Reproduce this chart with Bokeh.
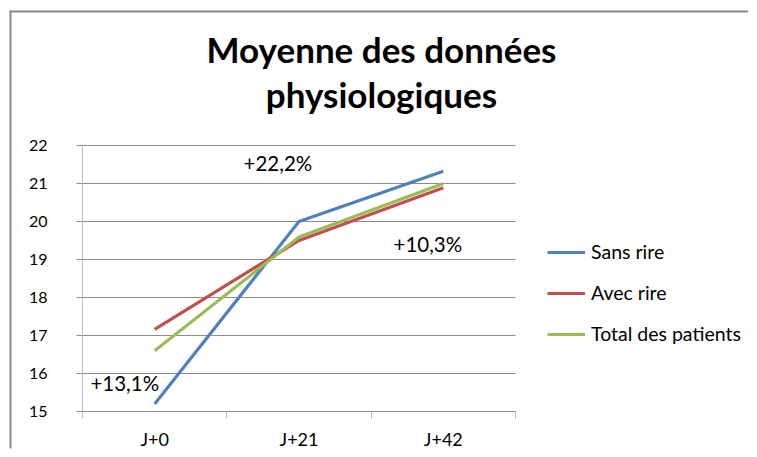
from bokeh.plotting import figure
from bokeh.models import (Range1d, FixedTicker, LinearAxis, Legend, LegendItem,
                          Label, BoxAnnotation)
from bokeh.embed import file_html
from bokeh.resources import INLINE

categories = ["J+0", "J+21", "J+42"]
sans_rire = [15.2, 20.0, 21.32]
avec_rire = [17.16, 19.5, 20.89]
total_patients = [16.6, 19.59, 21.0]
y_ticks = [15, 16, 17, 18, 19, 20, 21, 22]
annotations = ["+13,1%", "+22,2%", "+10,3%"]

x_pos = [i + 0.5 for i in range(len(categories))]
n = len(categories)
FONT = "Lato"
W, H = 749, 449
# layout: plot area spans x 82..515 px, y 145..411 px
px_x = (515 - 82) / n
px_y = (411 - 145) / (y_ticks[-1] - y_ticks[0])
x0 = -82 / px_x
x1 = (W - 82) / px_x
y0 = y_ticks[0] - (H - 411) / px_y
y1 = y_ticks[-1] + 145 / px_y

p = figure(width=W, height=H, output_backend="svg", toolbar_location=None,
           x_range=Range1d(x0, x1), y_range=Range1d(y0, y1),
           min_border=0, x_axis_type=None, y_axis_type=None)
p.outline_line_color = None
p.background_fill_color = "white"
p.border_fill_color = "white"

# outer chart border (left and top edges) as thin filled bands
BORDER = "#878787"
p.add_layout(BoxAnnotation(left=x0 + 9 / px_x, right=x0 + 11 / px_x,
                           top=y1 - 10 / px_y, bottom=y0 + 1 / px_y,
                           fill_color=BORDER, fill_alpha=1, line_color=None))
p.add_layout(BoxAnnotation(left=x0 + 9 / px_x, right=x1 - 1.5 / px_x,
                           top=y1 - 10 / px_y, bottom=y1 - 12 / px_y,
                           fill_color=BORDER, fill_alpha=1, line_color=None))

# horizontal gridlines limited to the plot area
p.segment(x0=[0] * len(y_ticks), x1=[n] * len(y_ticks), y0=y_ticks, y1=y_ticks,
          line_color="#8C8C8C", line_width=1)

# y axis
yaxis = LinearAxis(ticker=FixedTicker(ticks=y_ticks), fixed_location=0,
                   bounds=(y_ticks[0], y_ticks[-1]),
                   axis_line_color="#BDBDBD", major_tick_line_color="#8C8C8C",
                   major_tick_out=6, major_tick_in=0, minor_tick_line_color=None,
                   major_label_text_font=FONT, major_label_text_font_size="16px",
                   major_label_text_color="#000000", major_label_standoff=29)
p.add_layout(yaxis, "left")

# x axis: boundary ticks
tick_axis = LinearAxis(ticker=FixedTicker(ticks=list(range(n + 1))),
                       fixed_location=y_ticks[0], bounds=(0, n),
                       major_label_overrides={i: "" for i in range(n + 1)},
                       major_label_text_font_size="1px", major_label_standoff=0,
                       axis_line_color="#8C8C8C", major_tick_line_color="#BDBDBD",
                       major_tick_out=7, major_tick_in=0, minor_tick_line_color=None)
p.add_layout(tick_axis, "below")
# x axis: category labels
label_axis = LinearAxis(ticker=FixedTicker(ticks=x_pos), fixed_location=y_ticks[0],
                        major_label_overrides={x: c for x, c in zip(x_pos, categories)},
                        axis_line_color=None, major_tick_line_color=None,
                        major_tick_out=0, major_tick_in=0,
                        minor_tick_line_color=None, major_label_standoff=16,
                        major_label_text_font=FONT, major_label_text_font_size="18px",
                        major_label_text_color="#000000")
p.add_layout(label_axis, "below")

r1 = p.line(x_pos, sans_rire, line_color="#4F81BD", line_width=3.2)
r2 = p.line(x_pos, avec_rire, line_color="#C0504D", line_width=3.2)
r3 = p.line(x_pos, total_patients, line_color="#9BBB59", line_width=3.2)

legend = Legend(items=[LegendItem(label="Sans rire", renderers=[r1]),
                       LegendItem(label="Avec rire", renderers=[r2]),
                       LegendItem(label="Total des patients", renderers=[r3])],
                location=(547, H - 345), border_line_color=None,
                background_fill_alpha=0, padding=0, margin=0, spacing=18,
                glyph_width=38, glyph_height=20, label_height=20, label_standoff=6,
                label_text_font=FONT, label_text_font_size="19.5px",
                label_text_color="#000000")
p.add_layout(legend, "center")

# percentage annotations
ann_x = [0.055, 1.116, 2.155]
ann_y = [15.74, 21.53, 19.42]
for t, ax, ay in zip(annotations, ann_x, ann_y):
    p.add_layout(Label(x=ax, y=ay, text=t, text_font=FONT, text_font_size="20.5px",
                       text_baseline="middle", text_align="left", text_color="#000000"))

# title
p.add_layout(Label(x=(381 - 82) / px_x, y=y_ticks[-1] + (145 - 71) / px_y,
                   text="Moyenne des données\nphysiologiques",
                   text_font=FONT, text_font_size="35px", text_font_style="bold",
                   text_align="center", text_baseline="middle",
                   text_line_height=1.05, text_color="#000000"))

open("out.html", "w").write(file_html(p, INLINE))
